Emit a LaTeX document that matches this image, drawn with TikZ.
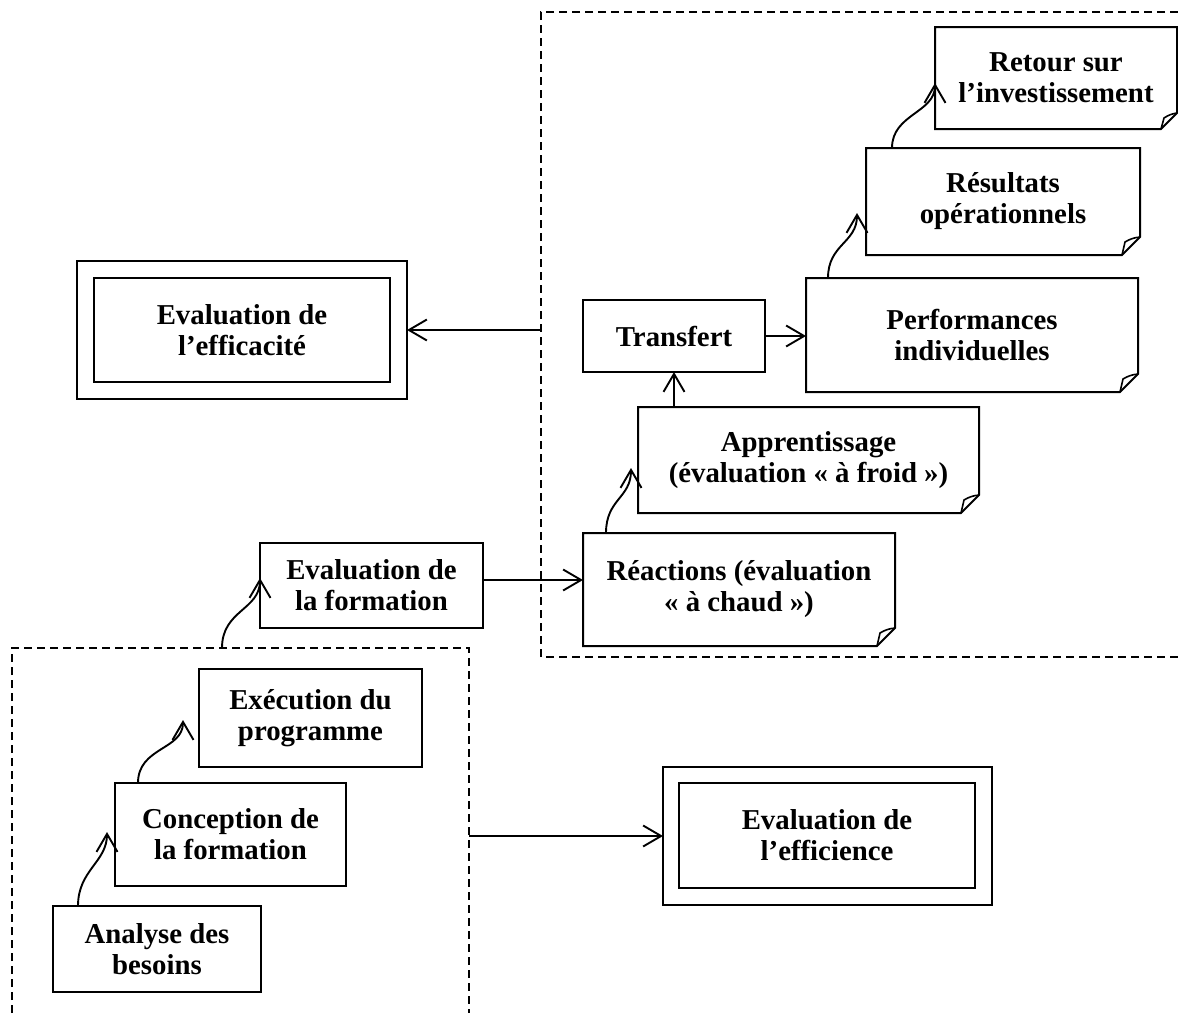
\documentclass[tikz,border=0pt]{standalone}
\usepackage{fontspec}
\setmainfont{Liberation Serif}
\usetikzlibrary{arrows.meta}
\begin{document}
\begin{tikzpicture}[x=1pt,y=-1pt,
  txt/.style={font=\bfseries\fontsize{28.8}{31}\selectfont, align=center},
  box/.style={txt, draw, line width=2pt, inner sep=0pt, outer sep=0pt},
  note/.style={txt, inner sep=0pt, outer sep=0pt},
  frame/.style={line width=1.5pt, dash pattern=on 8pt off 5pt},
  link/.style={line width=1.9pt, -{Straight Barb[length=18pt,width=21pt]}},
  outline/.style={line width=2pt, line join=miter},
  flap/.style={line width=1.6pt, line join=round},
]
\useasboundingbox (0,0) rectangle (1178,1013);

% dashed frames
\coordinate (F1a) at (1178,12);
\coordinate (F1b) at (541,12);
\coordinate (F1c) at (541,657);
\coordinate (F1d) at (1178,657);
\coordinate (F1out) at (541,330);
\draw[frame] (F1a) -- (F1b) -- (F1c) -- (F1d);

\coordinate (F2a) at (12,1013);
\coordinate (F2b) at (12,648);
\coordinate (F2c) at (469,648);
\coordinate (F2d) at (469,1013);
\coordinate (F2out) at (469,836);
\coordinate (F2top) at (222,648);
\draw[frame] (F2a) -- (F2b) -- (F2c) -- (F2d);

% folded-corner notes
\node[note, minimum width=242pt, minimum height=102pt] (retour) at (1056,78) {Retour sur\\l’investissement};
\node[note, minimum width=274pt, minimum height=107pt] (resultats) at (1003,201.5) {Résultats\\opérationnels};
\node[note, minimum width=332pt, minimum height=114pt] (perf) at (972,335) {Performances\\individuelles};
\node[note, minimum width=341pt, minimum height=106pt] (apprent) at (808.5,460) {Apprentissage\\(évaluation « à froid »)};
\node[note, minimum width=312pt, minimum height=113pt] (reactions) at (739,589.5) {Réactions (évaluation\\« à chaud »)};

\foreach \n/\c in {retour/16, resultats/18, perf/18, apprent/18, reactions/18}{
  \draw[outline] (\n.north west) -- (\n.north east) -- ([yshift=\c pt]\n.south east)
    -- ([xshift=-\c pt]\n.south east) -- (\n.south west) -- cycle;
  \draw[flap] ([xshift=-\c pt]\n.south east) -- ([xshift=-\c pt+3pt, yshift=\c pt-5pt]\n.south east)
    to[bend left=12] ([yshift=\c pt]\n.south east);
}

% plain boxes
\node[box, minimum width=182pt, minimum height=72pt] (transfert) at (674,336) {Transfert};
\node[box, minimum width=223pt, minimum height=85pt] (evalform) at (371.5,585.5) {Evaluation de\\la formation};
\node[box, minimum width=223pt, minimum height=98pt] (execution) at (310.5,718) {Exécution du\\programme};
\node[box, minimum width=231pt, minimum height=103pt] (conception) at (230.5,834.5) {Conception de\\la formation};
\node[box, minimum width=208pt, minimum height=86pt] (analyse) at (157,949) {Analyse des\\besoins};

% double-framed outcome boxes
\node[box, minimum width=330pt, minimum height=138pt] (efficOut) at (242,330) {};
\node[box, minimum width=296pt, minimum height=104pt] (efficIn) at (242,330) {Evaluation de\\l’efficacité};
\node[box, minimum width=329pt, minimum height=138pt] (efficienceOut) at (827.5,836) {};
\node[box, minimum width=296pt, minimum height=105pt] (efficienceIn) at (827,835.5) {Evaluation de\\l’efficience};

% straight connectors
\draw[link] (F1out) -- (efficOut.east);
\draw[link] (F2out) -- (efficienceOut.west);
\draw[link] (transfert.east) -- (transfert.east -| perf.west);
\draw[link] (apprent.north -| transfert.south) -- (transfert.south);
\coordinate (efR) at ([yshift=5.5pt]evalform.east);
\draw[link] (efR) -- (efR -| reactions.west);

% curved step connectors
\draw[link] ([xshift=25pt]analyse.north west) .. controls +(0,-36) and +(0,30) .. ([xshift=-8pt,yshift=2.5pt]conception.west);
\draw[link] ([xshift=23pt]conception.north west) .. controls +(0,-36) and +(0,30) .. ([xshift=-16pt,yshift=-2pt]execution.west);
\draw[link] (F2top) .. controls +(0,-38) and +(0,32) .. ([yshift=7.5pt]evalform.west);
\draw[link] ([xshift=23pt]reactions.north west) .. controls +(0,-34) and +(0,30) .. ([xshift=-7pt,yshift=-8pt]apprent.west);
\draw[link] ([xshift=22pt]perf.north west) .. controls +(0,-34) and +(0,30) .. ([xshift=-9pt,yshift=-11.5pt]resultats.west);
\draw[link] ([xshift=26pt]resultats.north west) .. controls +(0,-34) and +(0,30) .. ([yshift=-5pt]retour.west);
\end{tikzpicture}
\end{document}
